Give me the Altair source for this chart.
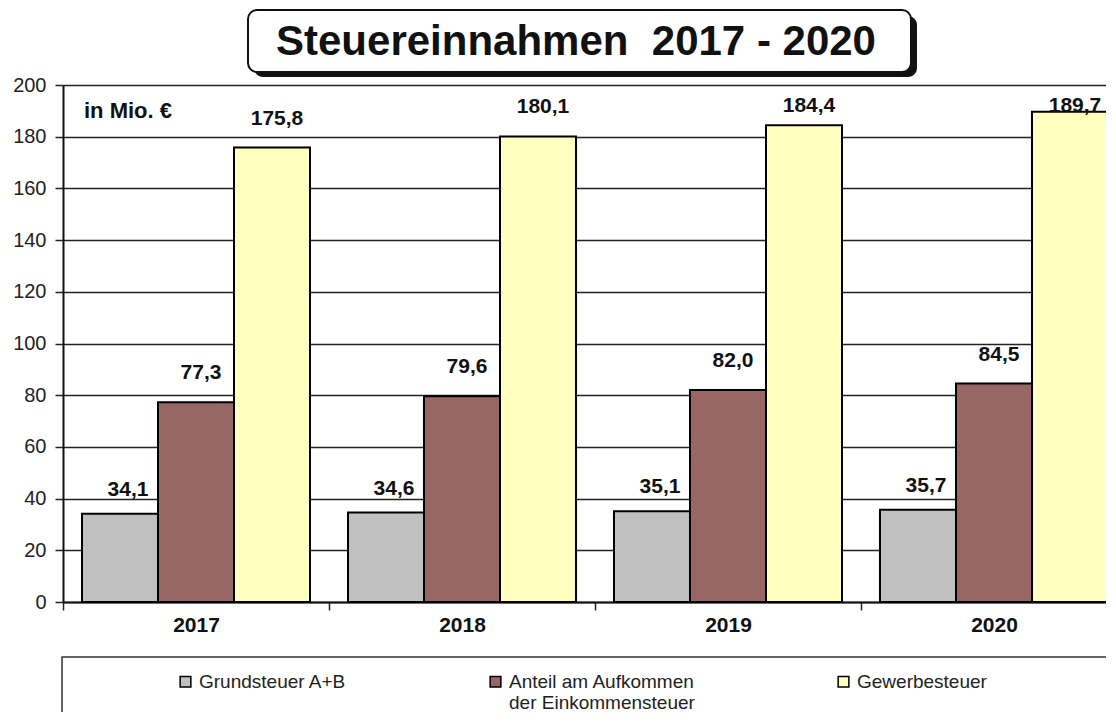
import altair as alt
import pandas as pd

TITLE = "Steuereinnahmen\u00a0 2017 - 2020"
UNIT = "in Mio. €"
years = ["2017", "2018", "2019", "2020"]
series = ["Grundsteuer A+B", "Anteil am Aufkommen der Einkommensteuer", "Gewerbesteuer"]
grundsteuer = [34.1, 34.6, 35.1, 35.7]
anteil_est = [77.3, 79.6, 82.0, 84.5]
gewerbesteuer = [175.8, 180.1, 184.4, 189.7]
colors = ["#c0c0c0", "#996666", "#ffffc0"]
y_ticks = [0, 20, 40, 60, 80, 100, 120, 140, 160, 180, 200]

rows = []
for s, vals in zip(series, [grundsteuer, anteil_est, gewerbesteuer]):
    for yr, v in zip(years, vals):
        rows.append({"year": yr, "series": s, "value": v,
                     "label": f"{v:.1f}".replace(".", ",")})
df = pd.DataFrame(rows)

FONT = "Liberation Sans"

x_enc = alt.X("year:N", sort=years,
              scale=alt.Scale(range=[0, 1064], paddingInner=0, paddingOuter=0),
              axis=alt.Axis(title=None, labelAngle=0, labelFont=FONT, labelFontWeight="bold",
                            labelFontSize=21, labelColor="#111", labelPadding=4,
                            tickBand="extent", tickSize=8, tickColor="#222", tickWidth=1.5,
                            domainColor="#111", domainWidth=2, grid=False))
xo_enc = alt.XOffset("series:N", sort=series,
                     scale=alt.Scale(domain=series, paddingInner=0, paddingOuter=0.25))
y_scale = alt.Scale(domain=[0, 200], nice=False)

legend_expr = ("datum.label == 'Anteil am Aufkommen der Einkommensteuer' ? "
               "['Anteil am Aufkommen', 'der Einkommensteuer'] : [datum.label, '']")

base = alt.Chart(df)

bars = base.mark_bar(stroke="black", strokeWidth=2).encode(
    x=x_enc,
    xOffset=xo_enc,
    y=alt.Y("value:Q", scale=y_scale,
            axis=alt.Axis(title=None, values=y_ticks, grid=True, gridColor="#222", gridWidth=1.5,
                          domainColor="#111", domainWidth=2, tickColor="#222", tickSize=8,
                          tickWidth=1.5, labelFont=FONT, labelFontSize=20, labelColor="#222",
                          labelPadding=9)),
    color=alt.Color("series:N", sort=series,
                    scale=alt.Scale(domain=series, range=colors),
                    legend=alt.Legend(orient="none", legendX=113, legendY=587,
                                      direction="horizontal", title=None,
                                      symbolType="square", symbolSize=115,
                                      symbolStrokeColor="black", symbolStrokeWidth=1.5,
                                      symbolOpacity=1,
                                      labelFont=FONT, labelFontSize=19, labelColor="#222",
                                      labelLimit=400, columnPadding=139, labelOffset=4,
                                      labelBaseline="middle",
                                      labelExpr=legend_expr)),
)

label_base = base.transform_calculate(ly="min(datum.value, 180.5)")

labels_gray = label_base.transform_filter(alt.datum.series == series[0]).mark_text(
    font=FONT, fontWeight="bold", fontSize=21, color="#111", dx=8, dy=-18,
    baseline="alphabetic").encode(
    x=alt.X("year:N", sort=years), xOffset=xo_enc,
    y=alt.Y("ly:Q", scale=y_scale), text="label:N")

labels_other = label_base.transform_filter(alt.datum.series != series[0]).mark_text(
    font=FONT, fontWeight="bold", fontSize=21, color="#111", dx=5, dy=-23,
    baseline="alphabetic").encode(
    x=alt.X("year:N", sort=years), xOffset=xo_enc,
    y=alt.Y("ly:Q", scale=y_scale), text="label:N")

one = alt.Data(values=[{"k": 1}])

unit_text = alt.Chart(one).mark_text(
    text=UNIT, font=FONT, fontWeight="bold", fontSize=22, color="#111",
    align="left", baseline="alphabetic").encode(x=alt.value(21), y=alt.value(33))

title_shadow = alt.Chart(one).mark_rect(cornerRadius=9, color="#111").encode(
    x=alt.value(191), x2=alt.value(854), y=alt.value(-69), y2=alt.value(-8))
title_box = alt.Chart(one).mark_rect(cornerRadius=9, fill="white", stroke="#111",
                                     strokeWidth=2).encode(
    x=alt.value(185), x2=alt.value(848), y=alt.value(-75), y2=alt.value(-13))
title_text = alt.Chart(one).mark_text(
    text=TITLE, font=FONT, fontWeight="bold", fontSize=42, color="#111",
    align="center", baseline="middle").encode(x=alt.value(513), y=alt.value(-43))

legend_box = alt.Chart(one).mark_rect(fill="white", stroke="#333", strokeWidth=1.5).encode(
    x=alt.value(-1), x2=alt.value(1100), y=alt.value(572), y2=alt.value(650))

chart = alt.layer(
    legend_box, bars, labels_gray, labels_other, unit_text,
    title_shadow, title_box, title_text
).properties(
    width=1043, height=517,
    autosize=alt.AutoSizeParams(type="none"),
    padding={"left": 55, "top": 77, "right": 0, "bottom": 110},
).configure_view(
    fill="#e3e3e3", stroke=None
).configure(background="white")

chart.save("out.html", embed_options={"renderer": "svg", "actions": False})
